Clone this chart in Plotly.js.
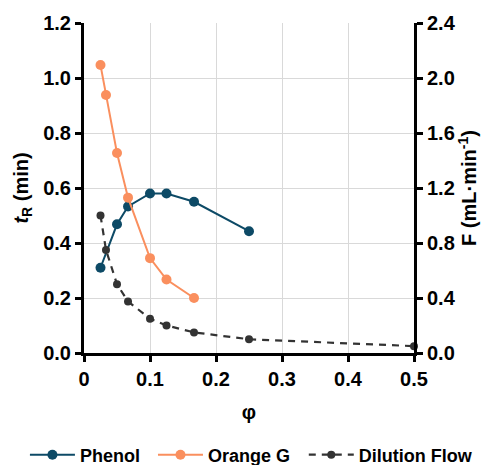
<!DOCTYPE html>
<html>
<head>
<meta charset="utf-8">
<script src="https://cdn.plot.ly/plotly-3.0.1.min.js"></script>
<style>html,body{margin:0;padding:0;background:#fff;}#chart{width:490px;height:465px;}</style>
</head>
<body>
<div id="chart"></div>
<script>
// Data
const phenolX = [0.025, 0.05, 0.0667, 0.1, 0.125, 0.1667, 0.25];
const phenolY = [0.31, 0.468, 0.533, 0.58, 0.58, 0.55, 0.443];

const orangeX = [0.025, 0.0333, 0.05, 0.0667, 0.1, 0.125, 0.1667];
const orangeY = [1.047, 0.938, 0.727, 0.565, 0.345, 0.267, 0.2];

const dilutionX = [0.025, 0.0333, 0.05, 0.0667, 0.1, 0.125, 0.1667, 0.25, 0.5];
const dilutionF = [1.0, 0.75, 0.5, 0.375, 0.25, 0.2, 0.15, 0.1, 0.05];

const xTickVals = [0, 0.1, 0.2, 0.3, 0.4, 0.5];
const xTickText = ["0", "0.1", "0.2", "0.3", "0.4", "0.5"];
const yTickVals = [0, 0.2, 0.4, 0.6, 0.8, 1.0, 1.2];
const yTickText = ["0.0", "0.2", "0.4", "0.6", "0.8", "1.0", "1.2"];
const y2TickVals = [0, 0.4, 0.8, 1.2, 1.6, 2.0, 2.4];
const y2TickText = ["0.0", "0.4", "0.8", "1.2", "1.6", "2.0", "2.4"];

const FONT = "Liberation Sans, Arial, sans-serif";
const tickFont = {family: FONT, size: 20, color: "#000", weight: "bold"};
const titleFont = {family: FONT, size: 20, color: "#000", weight: "bold"};
const legendFont = {family: FONT, size: 18, color: "#000", weight: "bold"};

const traces = [
  {x: phenolX, y: phenolY, name: "Phenol", mode: "lines+markers", type: "scatter", legend: "legend",
   line: {color: "#0d4a66", width: 2}, marker: {color: "#0d4a66", size: 10}},
  {x: orangeX, y: orangeY, name: "Orange G", mode: "lines+markers", type: "scatter", legend: "legend2",
   line: {color: "#fa8f5e", width: 2}, marker: {color: "#fa8f5e", size: 10}},
  {x: dilutionX, y: dilutionF, name: "Dilution Flow", mode: "lines+markers", type: "scatter", legend: "legend3",
   yaxis: "y2", line: {color: "#333333", width: 2.2, dash: "7px,6px"}, marker: {color: "#333333", size: 8},
   cliponaxis: false}
];

function legendAt(x) {
  return {x: x, xanchor: "left", y: -0.309, yanchor: "middle", font: legendFont,
          itemwidth: 45, bgcolor: "rgba(0,0,0,0)"};
}

const layout = {
  width: 490, height: 465,
  margin: {l: 84, r: 76, t: 23, b: 112, autoexpand: false},
  paper_bgcolor: "#fff", plot_bgcolor: "#fff",
  showlegend: true,
  legend: legendAt(-0.179),
  legend2: legendAt(0.209),
  legend3: legendAt(0.666),
  xaxis: {range: [0, 0.5], tickvals: xTickVals, ticktext: xTickText,
          showgrid: true, gridcolor: "#d9d9d9", gridwidth: 1, zeroline: false,
          showline: true, linecolor: "#000", linewidth: 3,
          ticks: "outside", ticklen: 6, tickwidth: 3, tickcolor: "#000",
          tickfont: tickFont,
          title: {text: "φ", font: titleFont, standoff: 16}},
  yaxis: {range: [0, 1.2], tickvals: yTickVals, ticktext: yTickText,
          showgrid: true, gridcolor: "#d9d9d9", gridwidth: 1, zeroline: false,
          showline: true, linecolor: "#000", linewidth: 3,
          ticks: "outside", ticklen: 6, tickwidth: 3, tickcolor: "#000",
          tickfont: tickFont,
          title: {text: "<i>t</i><sub>R</sub> (min)", font: titleFont, standoff: 10}},
  yaxis2: {range: [0, 2.4], tickvals: y2TickVals, ticktext: y2TickText, overlaying: "y", side: "right",
           showgrid: false, zeroline: false,
           showline: true, linecolor: "#000", linewidth: 3,
           ticks: "outside", ticklen: 6, tickwidth: 3, tickcolor: "#000",
           tickfont: tickFont,
           title: {text: "F (mL·min<sup>-1</sup>)", font: titleFont, standoff: 8}},
  // overlay axes to draw the inner half of the crossing tick marks
  xaxis3: {range: [0, 0.5], tickvals: xTickVals, overlaying: "x", anchor: "y", side: "bottom",
           showgrid: false, zeroline: false, showline: false, showticklabels: false,
           ticks: "inside", ticklen: 6, tickwidth: 3, tickcolor: "#000"},
  yaxis3: {range: [0, 1.2], tickvals: yTickVals, overlaying: "y", side: "left", anchor: "x",
           showgrid: false, zeroline: false, showline: false, showticklabels: false,
           ticks: "inside", ticklen: 6, tickwidth: 3, tickcolor: "#000"},
  yaxis4: {range: [0, 2.4], tickvals: y2TickVals, overlaying: "y", side: "right", anchor: "x",
           showgrid: false, zeroline: false, showline: false, showticklabels: false,
           ticks: "inside", ticklen: 6, tickwidth: 3, tickcolor: "#000"}
};

Plotly.newPlot("chart", traces, layout, {displayModeBar: false, staticPlot: true});
</script>
</body>
</html>
